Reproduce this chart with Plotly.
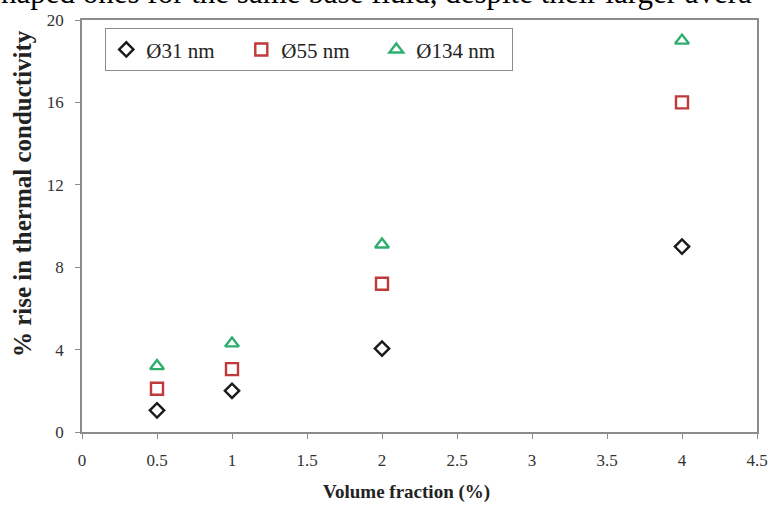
import plotly.graph_objects as go

volume_fraction = [0.5, 1, 2, 4]
rise_31nm = [1.05, 2.0, 4.05, 9.0]
rise_55nm = [2.1, 3.05, 7.2, 16.0]
rise_134nm = [3.2, 4.3, 9.1, 19.0]
series_names = ["Ø31 nm", "Ø55 nm", "Ø134 nm"]
x_ticks = [0, 0.5, 1, 1.5, 2, 2.5, 3, 3.5, 4, 4.5]
x_tick_labels = ["0", "0.5", "1", "1.5", "2", "2.5", "3", "3.5", "4", "4.5"]
y_ticks = [0, 4, 8, 12, 16, 20]

SERIF = "Liberation Serif, Times New Roman, serif"
AXIS_COLOR = "#8c8c8c"

fig = go.Figure()
styles = [
    (rise_31nm, "diamond-open", "#1a1a1a", 11),
    (rise_55nm, "square-open", "#c0393b", 12),
    (rise_134nm, "triangle-up-open", "#2fae6e", 12),
]
for name, (vals, sym, col, size) in zip(series_names, styles):
    fig.add_trace(go.Scatter(
        x=volume_fraction, y=vals, mode="markers", name=name,
        marker=dict(symbol=sym, size=size, color=col, line=dict(width=2.4, color=col)),
    ))

W, H = 768, 505
ml, mr, mt, mb = 82, 11, 20, 73
pw, ph = W - ml - mr, H - mt - mb

fig.update_layout(
    width=W, height=H,
    margin=dict(l=ml, r=mr, t=mt, b=mb),
    paper_bgcolor="white", plot_bgcolor="white",
    font=dict(family=SERIF, color="#333333", size=17),
    showlegend=True,
    legend=dict(
        orientation="h",
        x=(105 - ml) / pw, xanchor="left",
        y=1 - (28 - mt) / ph, yanchor="top",
        bordercolor="#8c8c8c", borderwidth=1.3,
        bgcolor="white",
        font=dict(family=SERIF, size=21, color="#222222"),
        entrywidth=90, entrywidthmode="pixels",
        tracegroupgap=0, itemwidth=30,
    ),
    xaxis=dict(
        range=[0, 4.5], tickmode="array", tickvals=x_ticks, ticktext=x_tick_labels,
        showgrid=False, zeroline=False, showline=True, linecolor=AXIS_COLOR, linewidth=1.6,
        mirror=True, ticks="outside", ticklen=5, tickcolor=AXIS_COLOR, tickwidth=1,
        ticklabelstandoff=7, automargin=False,
        tickfont=dict(family=SERIF, size=17, color="#333333"),
    ),
    yaxis=dict(
        range=[0, 20], tickmode="array", tickvals=y_ticks,
        showgrid=False, zeroline=False, showline=True, linecolor=AXIS_COLOR, linewidth=1.6,
        mirror=True, ticks="outside", ticklen=5, tickcolor=AXIS_COLOR, tickwidth=1,
        ticklabelstandoff=8, automargin=False,
        tickfont=dict(family=SERIF, size=17, color="#333333"),
    ),
)

# axis titles
fig.add_annotation(
    text="<b>Volume fraction (%)</b>", xref="paper", yref="paper",
    x=(406 - ml) / pw, y=-(492 - mt - ph) / ph, xanchor="center", yanchor="middle",
    showarrow=False, font=dict(family=SERIF, size=19, color="#222222"),
)
fig.add_annotation(
    text="<b>% rise in thermal conductivity</b>", xref="paper", yref="paper",
    x=-(ml - 22) / pw, y=1 - (194 - mt) / ph, xanchor="center", yanchor="middle",
    textangle=-90, showarrow=False, font=dict(family=SERIF, size=25, color="#222222"),
)
# cropped line of surrounding document text at the very top
fig.add_annotation(
    text="haped ones for the same base fluid, despite their larger avera",
    xref="paper", yref="paper",
    x=-(ml + 1) / pw, y=1 + (mt + 7) / ph, xanchor="left", yanchor="middle",
    showarrow=False, font=dict(family=SERIF, size=31, color="#000000"),
)

fig.write_html(
    "out.html",
    config={"displayModeBar": False},
    post_script="document.body.style.margin='0px';",
)
